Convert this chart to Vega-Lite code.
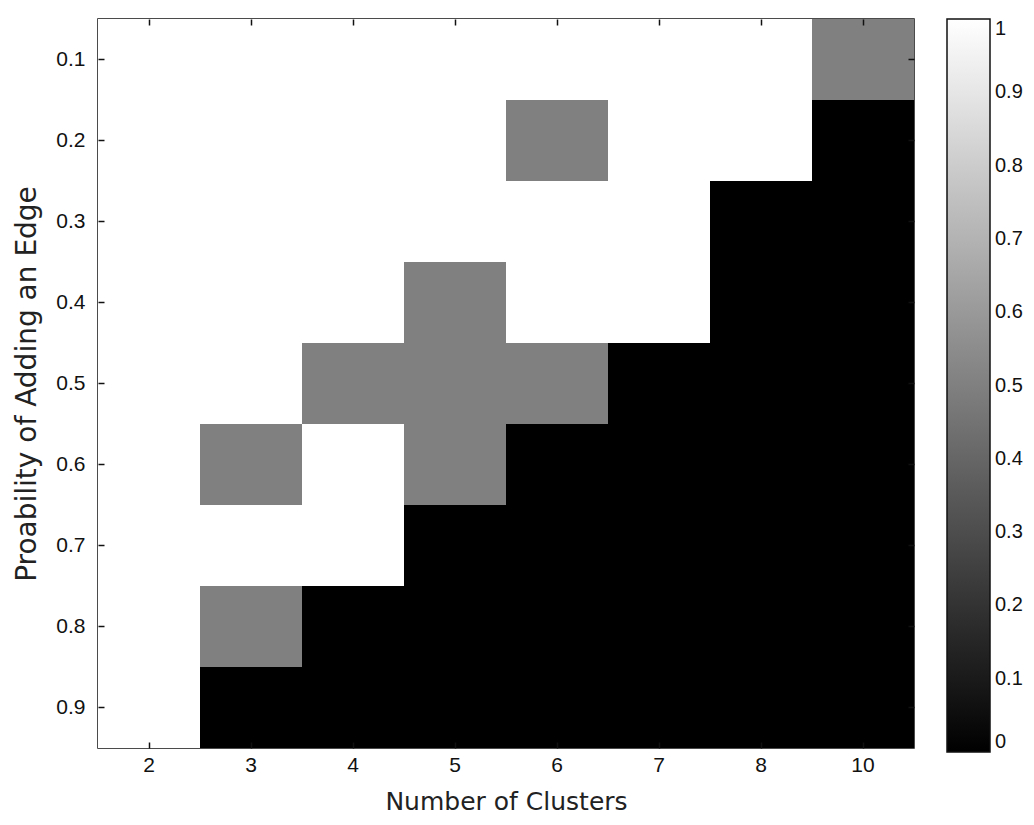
{
  "$schema": "https://vega.github.io/schema/vega-lite/v6.json",
  "width": 816,
  "height": 729,
  "autosize": {"type": "none"},
  "padding": {"left": 98, "top": 19, "right": 120, "bottom": 77},
  "background": "white",
  "config": {
    "view": {"stroke": "#111", "strokeWidth": 1.5},
    "axis": {"labelFont": "Liberation Sans", "titleFont": "DejaVu Sans", "labelColor": "#111", "titleColor": "#222", "domain": false, "grid": false, "ticks": true, "tickColor": "#111", "tickWidth": 1.5, "zindex": 1},
    "axisBand": {"ticks": true, "domain": false, "grid": false}
  },
  "data": {"values": [
    {"clusters": 2, "p": 0.1, "v": 1}, {"clusters": 3, "p": 0.1, "v": 1}, {"clusters": 4, "p": 0.1, "v": 1}, {"clusters": 5, "p": 0.1, "v": 1}, {"clusters": 6, "p": 0.1, "v": 1}, {"clusters": 7, "p": 0.1, "v": 1}, {"clusters": 8, "p": 0.1, "v": 1}, {"clusters": 10, "p": 0.1, "v": 0.5},
    {"clusters": 2, "p": 0.2, "v": 1}, {"clusters": 3, "p": 0.2, "v": 1}, {"clusters": 4, "p": 0.2, "v": 1}, {"clusters": 5, "p": 0.2, "v": 1}, {"clusters": 6, "p": 0.2, "v": 0.5}, {"clusters": 7, "p": 0.2, "v": 1}, {"clusters": 8, "p": 0.2, "v": 1}, {"clusters": 10, "p": 0.2, "v": 0},
    {"clusters": 2, "p": 0.3, "v": 1}, {"clusters": 3, "p": 0.3, "v": 1}, {"clusters": 4, "p": 0.3, "v": 1}, {"clusters": 5, "p": 0.3, "v": 1}, {"clusters": 6, "p": 0.3, "v": 1}, {"clusters": 7, "p": 0.3, "v": 1}, {"clusters": 8, "p": 0.3, "v": 0}, {"clusters": 10, "p": 0.3, "v": 0},
    {"clusters": 2, "p": 0.4, "v": 1}, {"clusters": 3, "p": 0.4, "v": 1}, {"clusters": 4, "p": 0.4, "v": 1}, {"clusters": 5, "p": 0.4, "v": 0.5}, {"clusters": 6, "p": 0.4, "v": 1}, {"clusters": 7, "p": 0.4, "v": 1}, {"clusters": 8, "p": 0.4, "v": 0}, {"clusters": 10, "p": 0.4, "v": 0},
    {"clusters": 2, "p": 0.5, "v": 1}, {"clusters": 3, "p": 0.5, "v": 1}, {"clusters": 4, "p": 0.5, "v": 0.5}, {"clusters": 5, "p": 0.5, "v": 0.5}, {"clusters": 6, "p": 0.5, "v": 0.5}, {"clusters": 7, "p": 0.5, "v": 0}, {"clusters": 8, "p": 0.5, "v": 0}, {"clusters": 10, "p": 0.5, "v": 0},
    {"clusters": 2, "p": 0.6, "v": 1}, {"clusters": 3, "p": 0.6, "v": 0.5}, {"clusters": 4, "p": 0.6, "v": 1}, {"clusters": 5, "p": 0.6, "v": 0.5}, {"clusters": 6, "p": 0.6, "v": 0}, {"clusters": 7, "p": 0.6, "v": 0}, {"clusters": 8, "p": 0.6, "v": 0}, {"clusters": 10, "p": 0.6, "v": 0},
    {"clusters": 2, "p": 0.7, "v": 1}, {"clusters": 3, "p": 0.7, "v": 1}, {"clusters": 4, "p": 0.7, "v": 1}, {"clusters": 5, "p": 0.7, "v": 0}, {"clusters": 6, "p": 0.7, "v": 0}, {"clusters": 7, "p": 0.7, "v": 0}, {"clusters": 8, "p": 0.7, "v": 0}, {"clusters": 10, "p": 0.7, "v": 0},
    {"clusters": 2, "p": 0.8, "v": 1}, {"clusters": 3, "p": 0.8, "v": 0.5}, {"clusters": 4, "p": 0.8, "v": 0}, {"clusters": 5, "p": 0.8, "v": 0}, {"clusters": 6, "p": 0.8, "v": 0}, {"clusters": 7, "p": 0.8, "v": 0}, {"clusters": 8, "p": 0.8, "v": 0}, {"clusters": 10, "p": 0.8, "v": 0},
    {"clusters": 2, "p": 0.9, "v": 1}, {"clusters": 3, "p": 0.9, "v": 0}, {"clusters": 4, "p": 0.9, "v": 0}, {"clusters": 5, "p": 0.9, "v": 0}, {"clusters": 6, "p": 0.9, "v": 0}, {"clusters": 7, "p": 0.9, "v": 0}, {"clusters": 8, "p": 0.9, "v": 0}, {"clusters": 10, "p": 0.9, "v": 0}
  ]},
  "layer": [
    {
      "mark": {"type": "rect"},
      "encoding": {
        "x": {"field": "clusters", "type": "ordinal", "sort": "ascending",
          "scale": {"paddingInner": 0, "paddingOuter": 0},
          "axis": {"title": "Number of Clusters", "labelAngle": 0, "labelFontSize": 21, "titleFontSize": 25, "titleFontWeight": "normal", "ticks": true, "offset": -6, "tickSize": 6, "labelPadding": 6, "titlePadding": 14, "zindex": 1}},
        "y": {"field": "p", "type": "ordinal", "sort": "ascending",
          "scale": {"paddingInner": 0, "paddingOuter": 0},
          "axis": {"title": "Proability of Adding an Edge", "labelFontSize": 21, "titleFontSize": 28, "titleFontWeight": "normal", "ticks": true, "offset": -6, "tickSize": 6, "labelPadding": 13, "titlePadding": 14, "zindex": 1}},
        "color": {"field": "v", "type": "quantitative",
          "scale": {"domain": [0, 1], "range": ["black", "white"], "interpolate": "rgb"},
          "legend": {"type": "gradient", "title": null, "orient": "right", "offset": 32, "padding": 0, "direction": "vertical",
            "gradientLength": 733, "gradientThickness": 43, "gradientStrokeColor": "#111", "gradientStrokeWidth": 1.5,
            "values": [0, 0.1, 0.2, 0.3, 0.4, 0.5, 0.6, 0.7, 0.8, 0.9, 1], "labelOverlap": false,
            "labelFontSize": 20, "labelFont": "Liberation Sans", "labelColor": "#111", "labelOffset": 5,
            "labelExpr": "datum.value == 0 ? '0' : datum.value == 1 ? '1' : format(datum.value, '.1f')"}}
      }
    },
    {
      "mark": {"type": "rect", "opacity": 0},
      "encoding": {
        "x": {"field": "clusters", "type": "ordinal", "sort": "ascending",
          "axis": {"orient": "top", "title": null, "labels": false, "ticks": true, "offset": -6, "tickSize": 6, "zindex": 1}},
        "y": {"field": "p", "type": "ordinal", "sort": "ascending",
          "axis": {"orient": "right", "title": null, "labels": false, "ticks": true, "offset": -6, "tickSize": 6, "zindex": 1}}
      }
    }
  ],
  "resolve": {"axis": {"x": "independent", "y": "independent"}}
}
